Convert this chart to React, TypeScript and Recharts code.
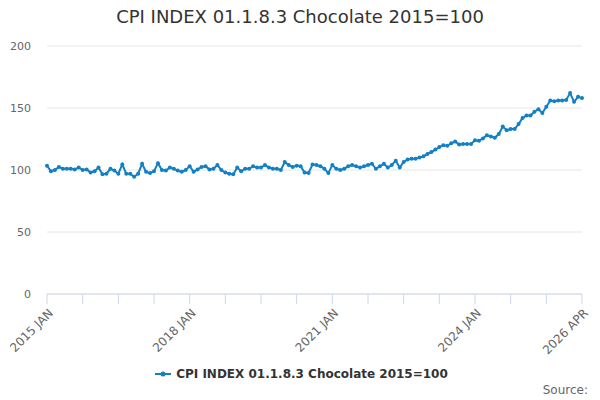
import { LineChart, Line, XAxis, YAxis, CartesianGrid, Legend } from "recharts";

const FONT = "'DejaVu Sans', sans-serif";
const LINE_COLOR = "#1380c4";
const SERIES_NAME = "CPI INDEX 01.1.8.3 Chocolate 2015=100";

const years = [2015, 2016, 2017, 2018, 2019, 2020, 2021, 2022, 2023, 2024, 2025, 2026];
const monthNames = ["JAN", "FEB", "MAR", "APR", "MAY", "JUN", "JUL", "AUG", "SEP", "OCT", "NOV", "DEC"];

// monthly index values, 2015 JAN .. 2026 APR
const cpiValues = [
    103.5, 99, 100, 102.5, 101, 101, 101, 100.5, 102, 100, 100.5, 98,
    99, 102, 96.5, 97, 101, 99.5, 97, 104.5, 97, 97, 94.5, 97,
    105, 98.5, 97.5, 99, 105.5, 100, 99.5, 102, 101, 99.5, 98.5, 100,
    103, 98.5, 100.5, 102.5, 103, 100.5, 101, 104, 100, 98, 97, 96.5,
    102, 99, 101, 101, 103, 102, 102, 104, 102, 101, 101, 100,
    106.5, 104, 102.5, 103.5, 103, 98, 97.5, 104.5, 104, 103, 101, 97.5,
    104, 101, 100, 101, 103, 104, 103, 102, 103, 104, 105, 101,
    103, 105, 102, 104, 107.5, 102, 106.5, 108.5, 109, 109, 110, 111,
    113, 114.5, 116.5, 118.5, 120, 119.5, 121.5, 123, 120.5, 121, 121, 121,
    124, 123.5, 125.5, 128, 127, 126, 129, 135, 132, 133, 133, 137,
    142, 144, 144, 147, 149, 146, 151, 156, 155.5, 156, 156, 156.5,
    162, 155, 159, 158,
];

const categories = years
    .flatMap((y) => monthNames.map((m) => `${y} ${m}`))
    .slice(0, cpiValues.length);

const xTicks = [
    "2015 JAN", "2015 OCT", "2016 JUL", "2017 APR", "2018 JAN", "2018 OCT", "2019 JUL", "2020 APR",
    "2021 JAN", "2021 OCT", "2022 JUL", "2023 APR", "2024 JAN", "2024 OCT", "2025 JUL", "2026 APR",
];
const xLabels = ["2015 JAN", "2018 JAN", "2021 JAN", "2024 JAN", "2026 APR"];
const yTicks = [0, 50, 100, 150, 200];

const data = categories.map((month, i) => ({ month, value: cpiValues[i] }));

function MonthTick({ x, y, payload }: any) {
    if (!xLabels.includes(payload.value)) return <g />;
    return (
        <g transform={`translate(${x + 4},${y + 5})`}>
            <text x={0} y={0} dy={4} textAnchor="end" transform="rotate(-45)" fill="#666" fontSize={12}>
                {payload.value}
            </text>
        </g>
    );
}

function LegendContent({ payload }: any) {
    const item = payload && payload[0];
    return (
        <div
            style={{
                display: "flex",
                justifyContent: "center",
                alignItems: "center",
                height: 26,
                paddingLeft: 14,
                fontFamily: FONT,
                fontSize: 12,
                fontWeight: "bold",
                color: "#333",
            }}
        >
            <svg width={16} height={10} style={{ marginRight: 5 }}>
                <line x1={0} y1={5} x2={16} y2={5} stroke={LINE_COLOR} strokeWidth={2} />
                <circle cx={8} cy={5} r={2.5} fill={LINE_COLOR} />
            </svg>
            <span>{item ? item.value : SERIES_NAME}</span>
        </div>
    );
}

export default function App() {
    return (
        <div style={{ position: "absolute", left: 0, top: 0, width: 600, height: 400, fontFamily: FONT, background: "#fff" }}>
            <div
                style={{
                    position: "absolute",
                    top: 6,
                    width: 600,
                    textAlign: "center",
                    fontSize: 18,
                    color: "#333",
                }}
            >
                {SERIES_NAME}
            </div>
            <LineChart
                width={600}
                height={400}
                data={data}
                margin={{ top: 46, right: 18, left: 7, bottom: 0 }}
            >
                <CartesianGrid vertical={false} stroke="#e6e6e6" />
                <XAxis
                    dataKey="month"
                    ticks={xTicks}
                    interval={0}
                    height={80}
                    tickSize={10}
                    tickMargin={2}
                    axisLine={{ stroke: "#ccd6eb" }}
                    tickLine={{ stroke: "#ccd6eb" }}
                    tick={(props: any) => <MonthTick {...props} />}
                />
                <YAxis
                    domain={[0, 200]}
                    ticks={yTicks}
                    width={40}
                    axisLine={false}
                    tickLine={false}
                    tickSize={6}
                    tickMargin={10}
                    tick={{ fontSize: 11, fill: "#666" }}
                />
                <Legend
                    verticalAlign="bottom"
                    height={26}
                    wrapperStyle={{ bottom: 13 }}
                    content={(props: any) => <LegendContent {...props} />}
                />
                <Line
                    type="linear"
                    dataKey="value"
                    name={SERIES_NAME}
                    stroke={LINE_COLOR}
                    strokeWidth={2}
                    dot={{ r: 2, fill: LINE_COLOR, stroke: LINE_COLOR, strokeWidth: 0 }}
                    isAnimationActive={false}
                />
            </LineChart>
            <div style={{ position: "absolute", right: 12, top: 383, fontSize: 12, color: "#666" }}>
                Source:
            </div>
        </div>
    );
}
